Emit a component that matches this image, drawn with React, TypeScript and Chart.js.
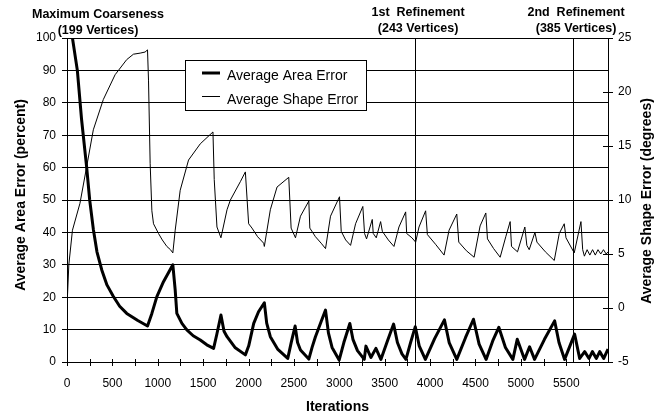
import React, { useEffect, useRef } from "react";
import { Chart, registerables } from "chart.js";

Chart.register(...registerables);

const FONT = "'Liberation Sans', Arial, Helvetica, sans-serif";

// Average Area Error (percent) — left axis
const areaIterations = [
  0, 60, 114, 160, 217, 250, 290, 330, 383, 440, 511, 580, 658, 780, 887, 935, 990, 1063, 1166,
  1192, 1210, 1266, 1320, 1390, 1468, 1540, 1615, 1650, 1696, 1730, 1763, 1850, 1965,
  2002, 2057, 2110, 2174, 2200, 2240, 2320, 2432, 2470, 2513, 2540, 2572,
  2664, 2700, 2737, 2800, 2848, 2880, 2920, 2998, 3050, 3116, 3150, 3200,
  3275, 3293, 3348, 3403, 3458, 3530, 3598, 3640, 3690, 3734, 3785, 3837,
  3880, 3948, 4050, 4158, 4210, 4294, 4390, 4478, 4540, 4617, 4690, 4757,
  4830, 4912, 4960, 5041, 5096, 5151, 5260, 5372, 5420, 5482, 5592, 5648,
  5703, 5751, 5788, 5832, 5869, 5913, 5960,
];
const areaError = [
  108, 100, 90, 75, 60, 50, 41, 34, 28.4, 23.8, 20.2, 17.2, 15, 12.8, 11.1, 15, 20.2, 24.8, 30,
  22.2, 15, 11.9, 9.9, 8.1, 6.8, 5.3, 4.2, 8.5, 14.5, 9.5, 7.8, 4.5, 2.2,
  5, 11.9, 15.5, 18.3, 12, 7.8, 4, 1.1, 6, 11.1, 6, 3.7,
  0.9, 4.5, 7.8, 12.5, 16, 9, 4.5, 0.6, 6, 11.9, 7, 3.5,
  0.8, 4.9, 1.4, 4.2, 0.8, 6.5, 11.7, 6, 2.5, 0.8, 6, 10.9,
  5, 0.8, 7.2, 13, 6, 0.8, 7.5, 13.2, 5.5, 0.8, 6.5, 10.7,
  4.5, 0.8, 7, 0.8, 4.7, 0.8, 7, 12.7, 6, 0.8, 8.6, 1.1,
  3.2, 1.1, 3.2, 1.1, 3.2, 1.1, 4.0,
];

// Average Shape Error (degrees) — right axis
const shapeIterations = [
  0, 20, 60, 143, 217, 290, 400, 530, 658, 732, 806, 860, 887, 898, 916, 935,
  953, 1008, 1050, 1100, 1140, 1166, 1192, 1247, 1339, 1468, 1608, 1622, 1652,
  1696, 1763, 1800, 1910, 1965, 2001, 2038, 2100, 2167, 2174, 2240, 2314,
  2443, 2469, 2517, 2572, 2664, 2675, 2737, 2800, 2848, 2903, 3002, 3021,
  3070, 3124, 3179, 3259, 3278, 3300, 3363, 3374, 3407, 3455, 3474, 3540,
  3602, 3657, 3731, 3742, 3800, 3841, 3878, 3951, 3970, 4060, 4154, 4209,
  4294, 4316, 4400, 4485, 4551, 4614, 4632, 4700, 4772, 4834, 4882, 4897,
  4963, 5044, 5066, 5092, 5155, 5177, 5270, 5368, 5423, 5478, 5497, 5588,
  5662, 5681, 5700, 5730, 5760, 5790, 5820, 5850, 5880, 5910, 5940, 5960,
];
const shapeError = [
  0.1, 4, 7.2, 9.7, 13.1, 16.5, 19.3, 21.6, 23, 23.5, 23.6, 23.7, 23.9, 21.1, 13.4, 9,
  7.8, 6.9, 6.3, 5.7, 5.4, 5.1, 7.2, 10.9, 13.7, 15.2, 16.3, 11.9, 7.5,
  6.5, 9.1, 10, 11.7, 12.6, 7.8, 7.4, 6.6, 6.0, 5.7, 9.1, 11.2,
  12.1, 7.4, 6.5, 8.5, 9.9, 7.4, 6.6, 6.0, 5.5, 8.5, 10.3, 7.1,
  6.3, 5.8, 7.8, 9.4, 6.9, 6.4, 8.2, 6.9, 6.5, 8, 7.1, 6.3,
  5.7, 7.5, 8.9, 6.9, 6.5, 6.1, 7.5, 9, 6.8, 5.9, 4.9, 7.2,
  8.7, 6.1, 5.3, 4.7, 7.6, 8.8, 6.4, 5.5, 4.7, 6.6, 8, 5.7,
  5.2, 7.5, 5.8, 5.4, 7, 6.1, 5.2, 4.4, 6.9, 7.8, 6.5, 5.1,
  8, 5.4, 4.8, 5.4, 4.9, 5.4, 4.9, 5.4, 5.0, 5.4, 5.0, 5.2,
];

const refinementIterations = [3835, 5575];
const topLabels = [
  ["Maximum Coarseness", "(199 Vertices)"],
  ["1st  Refinement", "(243 Vertices)"],
  ["2nd  Refinement", "(385 Vertices)"],
];
const seriesNames = ["Average Area Error", "Average Shape Error"];
const xTitle = "Iterations";
const leftTitle = "Average Area Error (percent)";
const rightTitle = "Average Shape Error (degrees)";
const xMin = 0;
const xMax = 5960;
const xTickValues = [
  0, 250, 500, 750, 1000, 1250, 1500, 1750, 2000, 2250, 2500, 2750, 3000,
  3250, 3500, 3750, 4000, 4250, 4500, 4750, 5000, 5250, 5500, 5750,
];
const xLabelStep = 500;
const leftMin = 0;
const leftMax = 100;
const leftStep = 10;
const rightMin = -5;
const rightMax = 25;
const rightStep = 5;

const overlayPlugin = {
  id: "overlay",
  beforeDatasetsDraw(chart: any) {
    const ctx = chart.ctx;
    const { top, bottom } = chart.chartArea;
    const xs = chart.scales.x;
    ctx.save();
    ctx.strokeStyle = "#000";
    ctx.lineWidth = 1;
    refinementIterations.forEach((it) => {
      const px = Math.round(xs.getPixelForValue(it)) + 0.5;
      ctx.beginPath();
      ctx.moveTo(px, top);
      ctx.lineTo(px, bottom);
      ctx.stroke();
    });
    ctx.restore();
  },
  afterDraw(chart: any) {
    const ctx = chart.ctx;
    const { left, right, top, bottom } = chart.chartArea;
    const xs = chart.scales.x;
    const y2 = chart.scales.y2;
    ctx.save();
    ctx.strokeStyle = "#000";
    ctx.lineWidth = 1;
    // crossing tick marks on x axis
    xs.ticks.forEach((t: any) => {
      const px = Math.round(xs.getPixelForValue(t.value)) + 0.5;
      ctx.beginPath();
      ctx.moveTo(px, bottom - 3);
      ctx.lineTo(px, bottom + 4);
      ctx.stroke();
    });
    // crossing tick marks on right axis
    y2.ticks.forEach((t: any) => {
      const py = Math.round(y2.getPixelForValue(t.value)) + 0.5;
      ctx.beginPath();
      ctx.moveTo(right - 5, py);
      ctx.lineTo(right + 5, py);
      ctx.stroke();
    });

    // legend
    const bx = left + 118;
    const by = top + 22;
    ctx.fillStyle = "#fff";
    ctx.fillRect(bx, by, 181, 50);
    ctx.strokeRect(bx + 0.5, by + 0.5, 181, 50);
    ctx.lineWidth = 3;
    ctx.beginPath();
    ctx.moveTo(bx + 17, by + 13);
    ctx.lineTo(bx + 35, by + 13);
    ctx.stroke();
    ctx.lineWidth = 1;
    ctx.beginPath();
    ctx.moveTo(bx + 17, by + 36.5);
    ctx.lineTo(bx + 35, by + 36.5);
    ctx.stroke();
    ctx.fillStyle = "#000";
    ctx.font = `14px ${FONT}`;
    ctx.textAlign = "left";
    ctx.textBaseline = "middle";
    ctx.fillText(seriesNames[0], bx + 42, by + 16);
    ctx.fillText(seriesNames[1], bx + 42, by + 40);

    // top annotations
    ctx.font = `bold 12.5px ${FONT}`;
    ctx.textAlign = "center";
    ctx.fillText(topLabels[0][0], left + 31, top - 23);
    ctx.fillText(topLabels[0][1], left + 31, top - 7);
    refinementIterations.forEach((it, i) => {
      const px = xs.getPixelForValue(it) + 3;
      ctx.fillText(topLabels[i + 1][0], px, top - 25);
      ctx.fillText(topLabels[i + 1][1], px, top - 9);
    });

    // axis titles
    ctx.font = `bold 14px ${FONT}`;
    ctx.save();
    ctx.translate(21.5, (top + bottom) / 2 - 5);
    ctx.rotate(-Math.PI / 2);
    ctx.fillText(leftTitle, 0, 0);
    ctx.restore();
    ctx.save();
    ctx.translate(647.5, (top + bottom) / 2 + 1);
    ctx.rotate(-Math.PI / 2);
    ctx.fillText(rightTitle, 0, 0);
    ctx.restore();

    ctx.restore();
  },
};

export default function App() {
  const canvasRef = useRef<HTMLCanvasElement | null>(null);

  useEffect(() => {
    const canvas = canvasRef.current;
    if (!canvas) return;
    const tickFont = { family: FONT, size: 12 };
    const chart = new Chart(canvas, {
      type: "line",
      data: {
        datasets: [
          {
            label: seriesNames[0],
            data: areaIterations.map((x, i) => ({ x, y: areaError[i] })),
            yAxisID: "y",
            borderColor: "#000",
            backgroundColor: "#000",
            borderWidth: 3,
            pointRadius: 0,
            tension: 0,
            fill: false,
            borderJoinStyle: "round",
          },
          {
            label: seriesNames[1],
            data: shapeIterations.map((x, i) => ({ x, y: shapeError[i] })),
            yAxisID: "y2",
            borderColor: "#000",
            backgroundColor: "#000",
            borderWidth: 1,
            pointRadius: 0,
            tension: 0,
            fill: false,
          },
        ],
      },
      options: {
        responsive: false,
        animation: false,
        devicePixelRatio: 1,
        layout: { padding: { top: 38, left: 0, right: 0, bottom: 0 } },
        plugins: {
          legend: { display: false },
          tooltip: { enabled: false },
          title: { display: false },
        },
        scales: {
          x: {
            type: "linear",
            position: "bottom",
            min: xMin,
            max: xMax,
            afterBuildTicks: (s: any) => {
              s.ticks = xTickValues.map((v) => ({ value: v }));
            },
            ticks: {
              autoSkip: false,
              maxRotation: 0,
              minRotation: 0,
              padding: 14,
              color: "#000",
              font: tickFont,
              callback: (v: any) =>
                Math.round(Number(v)) % xLabelStep === 0 ? String(Math.round(Number(v))) : "",
            },
            grid: { display: false, drawTicks: false },
            border: { display: true, color: "#000", width: 1 },
            title: {
              display: true,
              text: xTitle,
              color: "#000",
              font: { family: FONT, size: 14, weight: "bold" },
              padding: { top: 0, bottom: 2 },
            },
            afterFit: (s: any) => {
              s.height = 56;
            },
          },
          y: {
            position: "left",
            min: leftMin,
            max: leftMax,
            ticks: { stepSize: leftStep, padding: 6, color: "#000", font: tickFont },
            grid: { color: "#000", lineWidth: 1, drawTicks: true, tickLength: 5 },
            border: { display: true, color: "#000", width: 1 },
            afterFit: (s: any) => {
              s.width = 67;
            },
          },
          y2: {
            position: "right",
            min: rightMin,
            max: rightMax,
            ticks: { stepSize: rightStep, padding: 10, color: "#000", font: tickFont },
            grid: { drawOnChartArea: false, drawTicks: false },
            border: { display: true, color: "#000", width: 1 },
            afterFit: (s: any) => {
              s.width = 56;
            },
          },
        },
      } as any,
      plugins: [overlayPlugin],
    });
    return () => chart.destroy();
  }, []);

  return (
    <div style={{ position: "fixed", left: 0, top: 0, width: 664, height: 418, background: "#fff" }}>
      <canvas ref={canvasRef} width={664} height={418} style={{ display: "block" }} />
    </div>
  );
}
